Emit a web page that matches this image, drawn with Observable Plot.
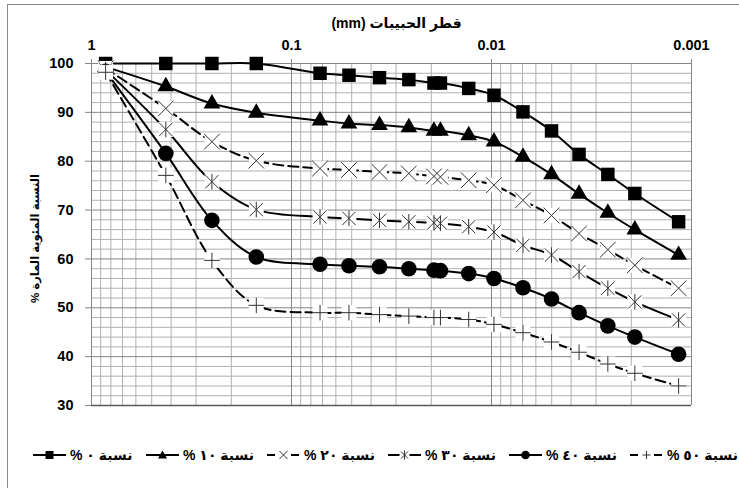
<!DOCTYPE html>
<html><head><meta charset="utf-8">
<script src="https://cdn.jsdelivr.net/npm/d3@7"></script>
<script src="https://cdn.jsdelivr.net/npm/@observablehq/plot@0.6"></script>
<style>
html,body{margin:0;padding:0;background:#fff;}
#wrap{position:relative;width:739px;height:488px;overflow:hidden;background:#fff;font-family:"Liberation Sans",Arial,"DejaVu Sans",sans-serif;}
#frame{position:absolute;left:7px;top:4px;width:900px;height:700px;border-left:1px solid #8c8c8c;border-top:1px solid #8c8c8c;}
#chart{position:absolute;left:0;top:0;}
#legend{position:absolute;left:0;top:446px;height:18px;width:900px;}
.item{position:absolute;top:0;height:18px;white-space:nowrap;}
.item svg{position:absolute;left:0;top:2px;}
.item span{position:absolute;left:37px;top:0;line-height:18px;font-size:14px;font-weight:bold;color:#000;}
</style></head>
<body><div id="wrap"><div id="frame"></div><div id="chart"></div><div id="legend"></div></div>
<script>
// grain diameter (mm) of each reading
const diameters = [0.85, 0.425, 0.25, 0.15, 0.072, 0.0516, 0.0363, 0.0259, 0.0194, 0.018, 0.013, 0.00972, 0.00696, 0.00501, 0.00365, 0.00262, 0.00192, 0.00116];
// percent passing for each mix
const pass0  = [100, 100, 100, 100, 98.0, 97.6, 97.1, 96.7, 96.0, 96.0, 94.9, 93.5, 90.1, 86.2, 81.4, 77.3, 73.4, 67.6];
const pass10 = [99.3, 95.3, 91.8, 89.9, 88.3, 87.7, 87.4, 86.9, 86.2, 86.2, 85.3, 84.0, 80.9, 77.3, 73.3, 69.4, 66.0, 60.8];
const pass20 = [99.0, 90.8, 84.0, 80.1, 78.5, 78.2, 77.8, 77.5, 76.9, 76.8, 76.1, 75.1, 72.0, 68.9, 65.2, 61.9, 58.7, 54.0];
const pass30 = [98.7, 86.5, 75.8, 70.1, 68.6, 68.3, 67.9, 67.6, 67.4, 67.3, 66.6, 65.5, 62.8, 60.8, 57.4, 54.0, 51.2, 47.5];
const pass40 = [98.4, 81.6, 67.9, 60.4, 58.9, 58.6, 58.4, 58.0, 57.7, 57.6, 57.0, 56.0, 54.1, 51.8, 49.0, 46.3, 44.0, 40.5];
const pass50 = [98.2, 77.1, 59.7, 50.5, 49.0, 49.0, 48.6, 48.3, 48.0, 48.0, 47.6, 46.6, 44.9, 43.0, 40.9, 38.5, 36.6, 34.0];
const seriesNames = ["نسبة ٠ %", "نسبة ١٠ %", "نسبة ٢٠ %", "نسبة ٣٠ %", "نسبة ٤٠ %", "نسبة ٥٠ %"];
const xTickValues = [1, 0.1, 0.01, 0.001];
const xTickLabels = ["1", "0.1", "0.01", "0.001"];
const yTickValues = [30, 40, 50, 60, 70, 80, 90, 100];
const xTitle = "قطر الحبيبات (mm)";
const yTitle = "النسبة المئوية المارة %";

const allSeries = [pass0, pass10, pass20, pass30, pass40, pass50];
const markerKinds = ["square", "triangle", "times", "star", "circle", "plus"];
const dashed = [false, false, true, false, false, true];

// custom stroked symbols
const timesSym = {draw(c, s){const r = Math.sqrt(s/Math.PI); c.moveTo(-r,-r); c.lineTo(r,r); c.moveTo(-r,r); c.lineTo(r,-r);}};
const starSym = {draw(c, s){const r = Math.sqrt(s/Math.PI); const q = r*0.85; c.moveTo(-q,-q); c.lineTo(q,q); c.moveTo(-q,q); c.lineTo(q,-q); c.moveTo(0,-r); c.lineTo(0,r);}};
const plusSym = {draw(c, s){const r = Math.sqrt(s/Math.PI); c.moveTo(-r,0); c.lineTo(r,0); c.moveTo(0,-r); c.lineTo(0,r);}};

// gridlines (log minor ticks 2..9 per decade)
const majorX = xTickValues;
const minorX = [];
for (const m of [1, 0.1, 0.01]) for (let k = 2; k <= 9; k++) minorX.push(+(m*k/10).toPrecision(3));
const majorY = yTickValues;
const minorY = [];
for (let v = 32; v < 100; v += 2) if (v % 10) minorY.push(v);

const marks = [
  Plot.ruleX(minorX, {stroke: "#b0b0b0", strokeWidth: 1}),
  Plot.ruleY(minorY, {stroke: "#b0b0b0", strokeWidth: 1}),
  Plot.ruleX(majorX, {stroke: "#858585", strokeWidth: 1}),
  Plot.ruleY(majorY, {stroke: "#858585", strokeWidth: 1}),
  Plot.ruleY([30], {stroke: "#5a5a5a", strokeWidth: 1.3}),
  Plot.axisX({anchor: "top", ticks: xTickValues, tickFormat: (d) => xTickLabels[xTickValues.indexOf(d)], tickSize: 5, tickPadding: 9, stroke: "#858585", label: null, fontSize: 14.5, fontWeight: "bold"}),
  Plot.axisY({anchor: "left", ticks: yTickValues, tickSize: 6, tickPadding: 12, stroke: "#858585", label: null, fontSize: 14.5, fontWeight: "bold"}),
  Plot.text([xTitle], {text: (d) => "\u202B" + d + "\u202C", frameAnchor: "top", textAnchor: "middle", dx: 5, dy: -45, fontSize: 14, fontWeight: "bold", fill: "#000"}),
  Plot.text([yTitle], {text: (d) => "\u202B" + d + "\u202C", frameAnchor: "left", textAnchor: "middle", rotate: -90, dx: -56, dy: 4, fontSize: 11.5, fontWeight: "bold", fill: "#000"})
];

allSeries.forEach((vals, i) => {
  const rows = diameters.map((d, j) => ({d, v: vals[j]}));
  marks.push(Plot.line(rows, {x: "d", y: "v", curve: "catmull-rom", stroke: "#000", strokeWidth: 2, strokeDasharray: dashed[i] ? "10,5" : null}));
  const k = markerKinds[i];
  if (k === "square") marks.push(Plot.dot(rows, {x: "d", y: "v", symbol: "square", r: 7.6, fill: "#000"}));
  if (k === "triangle") marks.push(Plot.dot(rows, {x: "d", y: "v", symbol: "triangle", r: 6.2, fill: "#000"}));
  if (k === "circle") marks.push(Plot.dot(rows, {x: "d", y: "v", symbol: "circle", r: 7.8, fill: "#000"}));
  if (k === "times" || k === "star" || k === "plus") {
    marks.push(Plot.dot(rows, {x: "d", y: "v", symbol: "square", r: 8.4, fill: "#fff"}));
    const sym = k === "times" ? timesSym : k === "star" ? starSym : plusSym;
    marks.push(Plot.dot(rows, {x: "d", y: "v", symbol: sym, r: 7.8, fill: "none", stroke: "#333", strokeWidth: 1}));
  }
});

const chart = Plot.plot({
  width: 739, height: 430,
  marginLeft: 91, marginRight: 48, marginTop: 63, marginBottom: 25,
  x: {type: "log", domain: [1, 0.001]},
  y: {domain: [30, 100]},
  style: {background: "transparent", fontFamily: "'Liberation Sans', Arial, 'DejaVu Sans', sans-serif", fontSize: "13px", color: "#000"},
  marks
});
document.getElementById("chart").appendChild(chart);

// legend
const lefts = [33, 146, 267, 388, 509, 630];
const ns = "http://www.w3.org/2000/svg";
const legend = document.getElementById("legend");
seriesNames.forEach((name, i) => {
  const item = document.createElement("div");
  item.className = "item";
  item.style.left = lefts[i] + "px";
  const svg = document.createElementNS(ns, "svg");
  svg.setAttribute("width", 33); svg.setAttribute("height", 14);
  const line = document.createElementNS(ns, "line");
  line.setAttribute("x1", 0); line.setAttribute("x2", 33); line.setAttribute("y1", 7); line.setAttribute("y2", 7);
  line.setAttribute("stroke", "#000"); line.setAttribute("stroke-width", 2);
  if (dashed[i]) line.setAttribute("stroke-dasharray", "8,4");
  svg.appendChild(line);
  const k = markerKinds[i];
  let m;
  if (k === "square") { m = document.createElementNS(ns, "rect"); m.setAttribute("x", 12.5); m.setAttribute("y", 3); m.setAttribute("width", 8); m.setAttribute("height", 8); m.setAttribute("fill", "#000"); }
  else if (k === "triangle") { m = document.createElementNS(ns, "path"); m.setAttribute("d", "M16.5,2.5L21,10.5L12,10.5Z"); m.setAttribute("fill", "#000"); }
  else if (k === "circle") { m = document.createElementNS(ns, "circle"); m.setAttribute("cx", 16.5); m.setAttribute("cy", 7); m.setAttribute("r", 4.3); m.setAttribute("fill", "#000"); }
  else {
    const bg = document.createElementNS(ns, "rect"); bg.setAttribute("x", 11.5); bg.setAttribute("y", 2); bg.setAttribute("width", 10); bg.setAttribute("height", 10); bg.setAttribute("fill", "#fff"); svg.appendChild(bg);
    m = document.createElementNS(ns, "path");
    const d = k === "times" ? "M12.5,3L20.5,11M12.5,11L20.5,3" : k === "star" ? "M13,3.5L20,10.5M13,10.5L20,3.5M16.5,2.5L16.5,11.5" : "M12.5,7L20.5,7M16.5,3L16.5,11";
    m.setAttribute("d", d); m.setAttribute("stroke", "#333"); m.setAttribute("stroke-width", 1); m.setAttribute("fill", "none");
  }
  svg.appendChild(m);
  item.appendChild(svg);
  const span = document.createElement("span");
  span.setAttribute("dir", "rtl");
  span.textContent = name;
  item.appendChild(span);
  legend.appendChild(item);
});
</script>
</body></html>
